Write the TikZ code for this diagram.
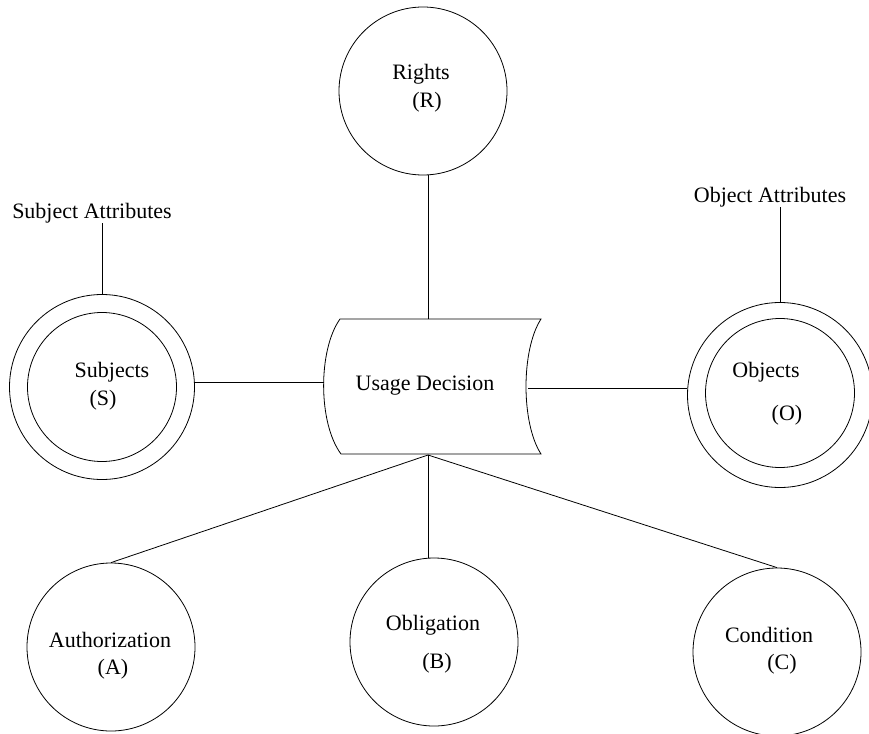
\documentclass[tikz,border=0pt]{standalone}
\usepackage{fontspec}
\setmainfont{Liberation Serif}
\begin{document}
\begin{tikzpicture}[x=1pt,y=-1pt,line width=0.8pt,
  every node/.style={font=\fontsize{22}{26}\selectfont},
  txt/.style={inner sep=0pt},
  big/.style={circle,draw,minimum size=168pt,inner sep=0pt},
  outer/.style={circle,draw,minimum size=185pt,inner sep=0pt},
  inner/.style={circle,draw,minimum size=149pt,inner sep=0pt}]
\useasboundingbox (0,0) rectangle (869,733);
% Rights
\node[big] (rights) at (423,91) {};
\node[txt] (rt1) at (421,74) {Rights};
\node[txt] (rt2) at (427,102) {(R)};
% Usage decision shape
\draw (340,319) -- (541,319) .. controls (521,350) and (521,423) .. (541,454)
  -- (341,454) .. controls (318,423) and (318,350) .. (340,319) -- cycle;
\node[txt] (ud) at (425,386) {Usage Decision};
\coordinate (udtop) at (428,319);
\coordinate (udbot) at (428,455);
\coordinate (udleft) at (323.5,382);
\coordinate (udright) at (528,388);
% Subjects
\node[outer] (so) at (102,387) {};
\node[inner] (si) at (102,387) {};
\node[txt] (s1) at (112,372) {Subjects};
\node[txt] (s2) at (103,400) {(S)};
\node[txt] (sa) at (92,213) {Subject Attributes};
% Objects
\node[outer] (oo) at (780,395) {};
\node[inner] (oi) at (780,393) {};
\node[txt] (o1) at (766,372) {Objects};
\node[txt] (o2) at (787,415) {(O)};
\node[txt] (oa) at (770,197) {Object Attributes};
% Bottom circles
\node[big] (auth) at (111,647) {};
\node[txt] (a1) at (110,640) {Authorization};
\node[txt] (a2) at (113,669) {(A)};
\node[big] (obl) at (434,642) {};
\node[txt] (b1) at (433,625) {Obligation};
\node[txt] (b2) at (437,663) {(B)};
\node[big] (cond) at (777,652) {};
\node[txt] (c1) at (769,635) {Condition};
\node[txt] (c2) at (782,664) {(C)};
% connectors
\draw (udtop) -- (udtop |- rights.south);
\draw (udleft) -- (udleft -| so.east);
\draw (udright) -- (udright -| oo.west);
\draw (so.north) -- (so.north |- sa.south);
\draw (oo.north) -- (oo.north |- oa.south);
\draw (udbot) -- (auth.north);
\draw (udbot) -- (udbot |- obl.north);
\draw (udbot) -- (cond.north);
\end{tikzpicture}
\end{document}
